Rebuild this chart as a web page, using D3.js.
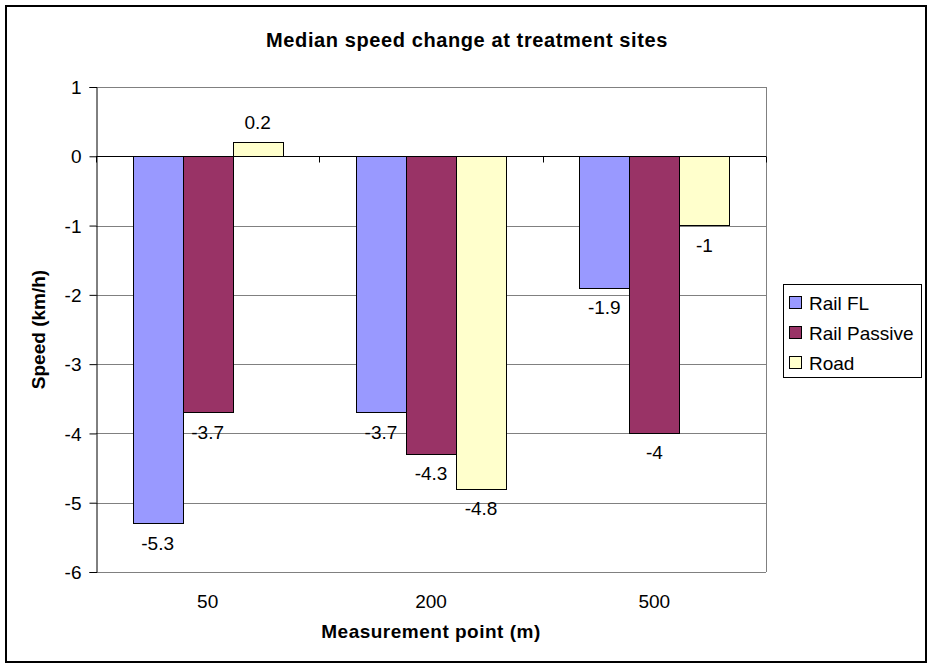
<!DOCTYPE html>
<html>
<head>
<meta charset="utf-8">
<script src="https://cdn.jsdelivr.net/npm/d3@7"></script>
<style>
  body { margin: 0; background: #fff; }
  svg text { font-family: Arial, "Liberation Sans", sans-serif; fill: #000; }
</style>
</head>
<body>
<div id="chart"></div>
<script>
// data
const categories = ["50", "200", "500"];
const seriesNames = ["Rail FL", "Rail Passive", "Road"];
const railFL = [-5.3, -3.7, -1.9];
const railPassive = [-3.7, -4.3, -4];
const road = [0.2, -4.8, -1];
const yTicks = [1, 0, -1, -2, -3, -4, -5, -6];
const colors = ["#9999ff", "#993366", "#ffffcc"];

const seriesValues = [railFL, railPassive, road];

const W = 928, H = 664;
const FS = "19px";
const svg = d3.select("#chart").append("svg")
  .attr("width", W)
  .attr("height", H);

// outer frame
svg.append("rect")
  .attr("x", 6).attr("y", 6)
  .attr("width", 920).attr("height", 656)
  .attr("fill", "#fff")
  .attr("stroke", "#000")
  .attr("stroke-width", 2);

const plot = { left: 96, right: 766, top: 87, bottom: 572 };

const y = d3.scaleLinear().domain([-6, 1]).range([plot.bottom, plot.top]);
const x = d3.scaleBand().domain(categories)
  .range([plot.left, plot.right])
  .paddingInner(0.328)
  .paddingOuter(0.164);
const xs = d3.scaleBand().domain(seriesNames).range([0, x.bandwidth()]);

// title
svg.append("text")
  .attr("x", 467)
  .attr("y", 47)
  .attr("text-anchor", "middle")
  .style("font-size", "20px")
  .style("font-weight", "bold")
  .style("letter-spacing", "0.6px")
  .text("Median speed change at treatment sites");

// gridlines
svg.append("g")
  .selectAll("line")
  .data(yTicks.filter(d => d !== 0))
  .enter().append("line")
  .attr("x1", plot.left).attr("x2", plot.right)
  .attr("y1", d => Math.round(y(d)) + 0.5)
  .attr("y2", d => Math.round(y(d)) + 0.5)
  .attr("stroke", "#808080");

// right border of plot area
svg.append("line")
  .attr("x1", plot.right + 0.5).attr("x2", plot.right + 0.5)
  .attr("y1", plot.top).attr("y2", plot.bottom)
  .attr("stroke", "#808080");

// bars
const rows = [];
categories.forEach((c, i) => {
  seriesNames.forEach((s, j) => {
    rows.push({ cat: c, series: s, value: seriesValues[j][i], color: colors[j] });
  });
});

svg.append("g")
  .selectAll("rect")
  .data(rows)
  .enter().append("rect")
  .attr("x", d => Math.round(x(d.cat) + xs(d.series)) + 0.5)
  .attr("y", d => Math.round(y(Math.max(0, d.value))) + 0.5)
  .attr("width", Math.round(xs.bandwidth()))
  .attr("height", d => Math.round(Math.abs(y(d.value) - y(0))))
  .attr("fill", d => d.color)
  .attr("stroke", "#000")
  .attr("stroke-width", 1);

// value labels
svg.append("g")
  .selectAll("text")
  .data(rows)
  .enter().append("text")
  .attr("x", d => x(d.cat) + xs(d.series) + xs.bandwidth() / 2)
  .attr("y", d => d.value < 0 ? y(d.value) + 26 : y(d.value) - 13)
  .attr("text-anchor", "middle")
  .style("font-size", FS)
  .text(d => String(d.value));

// y axis
const yAxis = svg.append("g")
  .attr("transform", `translate(${plot.left + 0.5},0)`)
  .call(d3.axisLeft(y).tickValues(yTicks).tickSize(7).tickPadding(8).tickFormat(d => String(d)));
yAxis.select(".domain").attr("stroke", "#000");
yAxis.selectAll(".tick line").attr("stroke", "#000");
yAxis.selectAll("text")
  .style("font-size", FS)
  .attr("dy", "0.35em")
  .attr("font-family", null);

// category axis along zero
const zeroY = Math.round(y(0)) + 0.5;
svg.append("line")
  .attr("x1", plot.left).attr("x2", plot.right)
  .attr("y1", zeroY).attr("y2", zeroY)
  .attr("stroke", "#000");
const gap = (x.step() - x.bandwidth()) / 2;
const bounds = categories.map(c => x(c) - gap).concat([x(categories[categories.length - 1]) + x.bandwidth() + gap]);
svg.append("g")
  .selectAll("line")
  .data(bounds)
  .enter().append("line")
  .attr("x1", d => Math.round(d) + 0.5).attr("x2", d => Math.round(d) + 0.5)
  .attr("y1", zeroY).attr("y2", zeroY + 6)
  .attr("stroke", "#000");

// category labels
svg.append("g")
  .selectAll("text")
  .data(categories)
  .enter().append("text")
  .attr("x", d => x(d) + x.bandwidth() / 2)
  .attr("y", 608)
  .attr("text-anchor", "middle")
  .style("font-size", FS)
  .text(d => d);

// axis titles
svg.append("text")
  .attr("x", (plot.left + plot.right) / 2)
  .attr("y", 638)
  .attr("text-anchor", "middle")
  .style("font-size", FS)
  .style("font-weight", "bold")
  .style("letter-spacing", "0.5px")
  .text("Measurement point (m)");

svg.append("text")
  .attr("transform", `translate(45,${(plot.top + plot.bottom) / 2}) rotate(-90)`)
  .attr("text-anchor", "middle")
  .style("font-size", FS)
  .style("font-weight", "bold")
  .text("Speed (km/h)");

// legend
const legend = svg.append("g");
legend.append("rect")
  .attr("x", 783.5).attr("y", 284.5)
  .attr("width", 138).attr("height", 93)
  .attr("fill", "#fff")
  .attr("stroke", "#000");
seriesNames.forEach((s, j) => {
  const cy = 303 + j * 30;
  legend.append("rect")
    .attr("x", 789.5).attr("y", cy - 6.5)
    .attr("width", 12).attr("height", 12)
    .attr("fill", colors[j])
    .attr("stroke", "#000");
  legend.append("text")
    .attr("x", 809)
    .attr("y", cy)
    .attr("dy", "0.35em")
    .style("font-size", FS)
    .text(s);
});
</script>
</body>
</html>
